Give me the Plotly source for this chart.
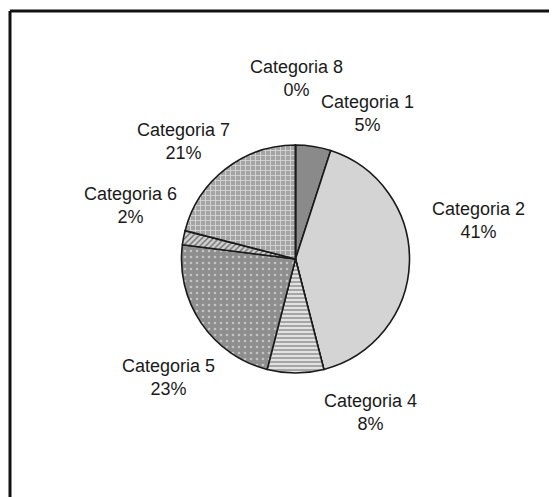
import plotly.graph_objects as go

categories = ["Categoria 1", "Categoria 2", "Categoria 3", "Categoria 4",
              "Categoria 5", "Categoria 6", "Categoria 7", "Categoria 8"]
values = [5, 41, 0, 8, 23, 2, 21, 0]
show_label = [True, True, False, True, True, True, True, True]

# page is offset by the default 8px body margin
OFF = 8
W, H = 557 - OFF, 497 - OFF


def px(x):
    return (x - OFF) / W


def py(y):
    return 1 - (y - OFF) / H


# styles
base_colors = ["#8a8a8a", "#d4d4d4", "#bdbdbd", "#e2e2e2", "#8e8e8e", "#d2d2d2", "#a9a9a9", "#9a9a9a"]
pat_shapes = ["", "", "", "-", ".", "/", "+", ""]
pat_fg = ["#8a8a8a", "#d4d4d4", "#bdbdbd", "#8c8c8c", "#c4c4c4", "#6e6e6e", "#dadada", "#9a9a9a"]
pat_bg = ["#8a8a8a", "#d4d4d4", "#bdbdbd", "#e2e2e2", "#8e8e8e", "#d2d2d2", "#a4a4a4", "#9a9a9a"]
pat_size = [8, 8, 8, 4, 6, 4, 5, 8]
pat_sol = [0.3, 0.3, 0.3, 0.35, 0.15, 0.35, 0.3, 0.3]

# pie placement (page pixels)
cx, cy, r = 295.5, 259, 114
label_pos = [(367, 114), (478, 220.5), None, (370, 412.5),
             (168, 377.5), (130, 205.5), (183, 141.5), (296, 78)]

fig = go.Figure(go.Pie(
    labels=categories,
    values=values,
    sort=False,
    direction="clockwise",
    rotation=0,
    textinfo="none",
    hoverinfo="label+percent",
    showlegend=False,
    domain=dict(x=[px(cx - r), px(cx + r)], y=[py(cy + r), py(cy - r)]),
    marker=dict(
        colors=base_colors,
        line=dict(color="#1a1a1a", width=1.6),
        pattern=dict(shape=pat_shapes, fgcolor=pat_fg, bgcolor=pat_bg,
                     size=pat_size, solidity=pat_sol, fillmode="replace"),
    ),
))

total = sum(values)
annotations = []
for name, v, show, pos in zip(categories, values, show_label, label_pos):
    if not show or pos is None:
        continue
    pct = round(100 * v / total)
    annotations.append(dict(
        x=px(pos[0]), y=py(pos[1]), xref="paper", yref="paper",
        xanchor="center", yanchor="middle", showarrow=False,
        text=f"{name}<br>{pct}%",
        font=dict(family="Liberation Sans, Arial, sans-serif", size=18, color="#1a1a1a"),
    ))

shapes = [
    dict(type="line", xref="paper", yref="paper", x0=px(10), x1=1, y0=py(11), y1=py(11),
         line=dict(color="#111111", width=3)),
    dict(type="line", xref="paper", yref="paper", x0=px(10), x1=px(10), y0=py(11), y1=0,
         line=dict(color="#111111", width=3)),
]

fig.update_layout(
    width=W, height=H,
    margin=dict(l=0, r=0, t=0, b=0),
    paper_bgcolor="white", plot_bgcolor="white",
    annotations=annotations,
    shapes=shapes,
)

fig.write_html("out.html")
